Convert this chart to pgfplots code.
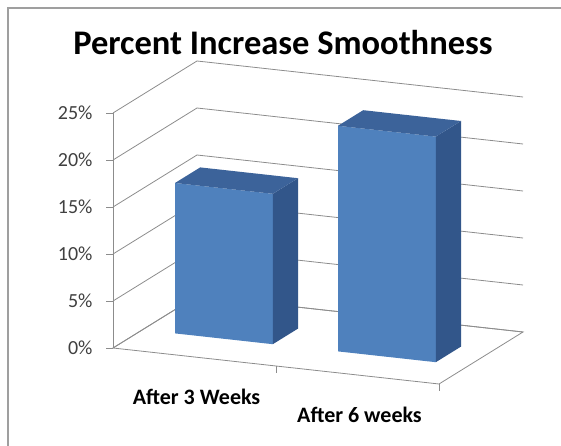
\documentclass[border=0pt]{standalone}
\usepackage{fontspec}
\setmainfont{Carlito}
\usepackage{pgfplots}
\pgfplotsset{compat=1.18}
\definecolor{frontc}{RGB}{79,129,189}
\definecolor{rightc}{RGB}{50,86,138}
\definecolor{topc}{RGB}{60,99,154}
\definecolor{gridc}{RGB}{140,140,140}
\definecolor{labc}{RGB}{64,64,64}
\begin{document}
\begin{tikzpicture}
\useasboundingbox (0,0) rectangle (561pt,446pt);
\draw[gray!75, line width=1.2pt] (8pt,0pt) -- (8pt,438pt) -- (561pt,438pt);
\node[anchor=base, font=\fontsize{34.5}{37}\selectfont\bfseries] at (283pt,391pt) {Percent Increase Smoothness};
\begin{axis}[
  at={(113pt,98pt)}, anchor=origin,
  x={(163pt,-18pt)}, y={(84pt,52pt)}, z={(0pt,9.4pt)},
  xmin=0, xmax=2, ymin=0, ymax=1, zmin=0, zmax=25,
  clip=false,
  axis line style={draw=none},
  xtick={0.5,1.5},
  xticklabels={After 3 Weeks, After 6 weeks},
  xticklabel style={font=\fontsize{22}{24}\selectfont\bfseries, anchor=north, yshift=-29pt, xshift=2pt},
  x tick style={draw=none},
  ytick=\empty,
  ztick={0,5,10,15,20,25},
  zticklabels={0\%,5\%,10\%,15\%,20\%,25\%},
  ztick pos=left, zticklabel pos=left,
  zticklabel style={font=\fontsize{20}{21}\selectfont, text=labc, anchor=east, xshift=-17pt},
  z tick style={draw=none},
  zmajorgrids=true,
  xmajorgrids=false, ymajorgrids=false,
  grid style={draw=gridc, line width=0.8pt},
]
% floor outline, front vertical edge and tick marks
\draw[gridc, line width=0.8pt] (axis cs:0,0,0) -- (axis cs:2,0,0) -- (axis cs:2,1,0) -- (axis cs:0,1,0) -- cycle;
\draw[gridc, line width=0.8pt] (axis cs:0,0,0) -- (axis cs:0,0,25);
\pgfplotsinvokeforeach{0,5,10,15,20,25}{\draw[gridc, line width=0.8pt] (axis cs:0,0,#1) -- ++(-7pt,0pt);}
\draw[gridc, line width=0.8pt] (axis cs:1,0,0) -- ++(0pt,-7pt);
\draw[gridc, line width=0.8pt] (axis cs:2,0,0) -- ++(0pt,-7pt);
% bar 1: After 3 Weeks = 16%
\addplot3[fill=frontc, draw=none] coordinates {(0.2,0.35,0) (0.8,0.35,0) (0.8,0.35,16) (0.2,0.35,16)} -- cycle;
\addplot3[fill=rightc, draw=none] coordinates {(0.8,0.35,0) (0.8,0.65,0) (0.8,0.65,16) (0.8,0.35,16)} -- cycle;
\addplot3[fill=topc, draw=none] coordinates {(0.2,0.35,16) (0.8,0.35,16) (0.8,0.65,16) (0.2,0.65,16)} -- cycle;
% bar 2: After 6 weeks = 24%
\addplot3[fill=frontc, draw=none] coordinates {(1.2,0.35,0) (1.8,0.35,0) (1.8,0.35,24) (1.2,0.35,24)} -- cycle;
\addplot3[fill=rightc, draw=none] coordinates {(1.8,0.35,0) (1.8,0.65,0) (1.8,0.65,24) (1.8,0.35,24)} -- cycle;
\addplot3[fill=topc, draw=none] coordinates {(1.2,0.35,24) (1.8,0.35,24) (1.8,0.65,24) (1.2,0.65,24)} -- cycle;
\end{axis}
\end{tikzpicture}
\end{document}
